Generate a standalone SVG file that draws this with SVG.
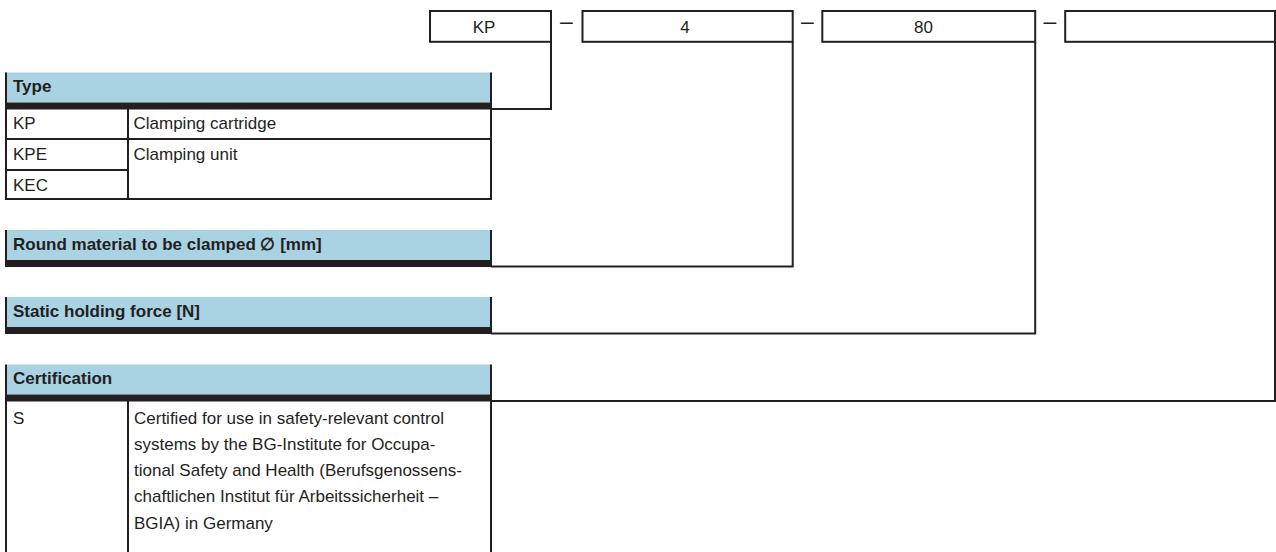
<svg xmlns="http://www.w3.org/2000/svg" width="1276" height="552" viewBox="0 0 1276 552">
  <style>
    text { font-family: "Liberation Sans", Arial, sans-serif; font-size: 17px; fill: #231f20; }
    .b { font-weight: bold; }
    .c { text-anchor: middle; }
    .d { text-anchor: middle; font-size: 23px; }
    .ln { stroke: #231f20; stroke-width: 2; fill: none; }
    .box { stroke: #231f20; stroke-width: 2; fill: #ffffff; }
    .hd { fill: #a9d2e3; }
    .bar { fill: #231f20; }
  </style>
  <rect width="1276" height="552" fill="#ffffff"/>

  <!-- connectors -->
  <g id="connectors">
    <path class="ln" d="M551,42 V109 H491"/>
    <path class="ln" d="M792.7,42 V266.5 H491"/>
    <path class="ln" d="M1035.2,42 V333.5 H491"/>
    <path class="ln" d="M1275,42 V401 H491"/>
  </g>

  <!-- code boxes -->
  <g id="box-type">
    <rect class="box" x="430" y="11" width="121" height="30.8"/>
    <text class="c" x="484" y="32.5">KP</text>
  </g>
  <text class="d" x="566.5" y="28.5">–</text>
  <g id="box-diameter">
    <rect class="box" x="582.5" y="11" width="210.2" height="30.8"/>
    <text class="c" x="685" y="32.5">4</text>
  </g>
  <text class="d" x="807.5" y="28.5">–</text>
  <g id="box-force">
    <rect class="box" x="822.3" y="11" width="212.9" height="30.8"/>
    <text class="c" x="923.5" y="32.5">80</text>
  </g>
  <text class="d" x="1050" y="28.5">–</text>
  <g id="box-cert">
    <rect class="box" x="1065.2" y="11" width="209.8" height="30.8"/>
  </g>

  <!-- Type section -->
  <g id="sec-type">
    <rect class="hd" x="6" y="72.5" width="485" height="30"/>
    <rect class="bar" x="5" y="102.5" width="487" height="7"/>
    <path class="ln" d="M6,72.5 V199 M491,72.5 V199 M128,109 V199 M6,139 H491 M6,170 H128 M5,199 H492"/>
    <text class="b" x="13" y="92">Type</text>
    <text x="13" y="129">KP</text>
    <text x="133.5" y="129">Clamping cartridge</text>
    <text x="13" y="160">KPE</text>
    <text x="133.5" y="160">Clamping unit</text>
    <text x="13" y="190.5">KEC</text>
  </g>

  <!-- Round material section -->
  <g id="sec-diameter">
    <rect class="hd" x="6" y="230" width="485" height="30"/>
    <rect class="bar" x="5" y="260" width="487" height="7"/>
    <path class="ln" d="M6,230 V267 M491,230 V267"/>
    <text class="b" x="13" y="249.5">Round material to be clamped ∅ [mm]</text>
  </g>

  <!-- Static holding force section -->
  <g id="sec-force">
    <rect class="hd" x="6" y="297" width="485" height="30"/>
    <rect class="bar" x="5" y="327" width="487" height="7"/>
    <path class="ln" d="M6,297 V334 M491,297 V334"/>
    <text class="b" x="13" y="316.5">Static holding force [N]</text>
  </g>

  <!-- Certification section -->
  <g id="sec-cert">
    <rect class="hd" x="6" y="364.5" width="485" height="30"/>
    <rect class="bar" x="5" y="394.5" width="487" height="7"/>
    <path class="ln" d="M6,364.5 V552 M491,364.5 V552 M128,401 V552"/>
    <text class="b" x="13" y="384">Certification</text>
    <text x="13" y="423.5">S</text>
    <text x="134" y="423.5">Certified for use in safety-relevant control</text>
    <text x="134" y="449.8">systems by the BG-Institute for Occupa-</text>
    <text x="134" y="476.1">tional Safety and Health (Berufsgenossens-</text>
    <text x="134" y="502.4">chaftlichen Institut für Arbeitssicherheit –</text>
    <text x="134" y="528.7">BGIA) in Germany</text>
  </g>
</svg>
